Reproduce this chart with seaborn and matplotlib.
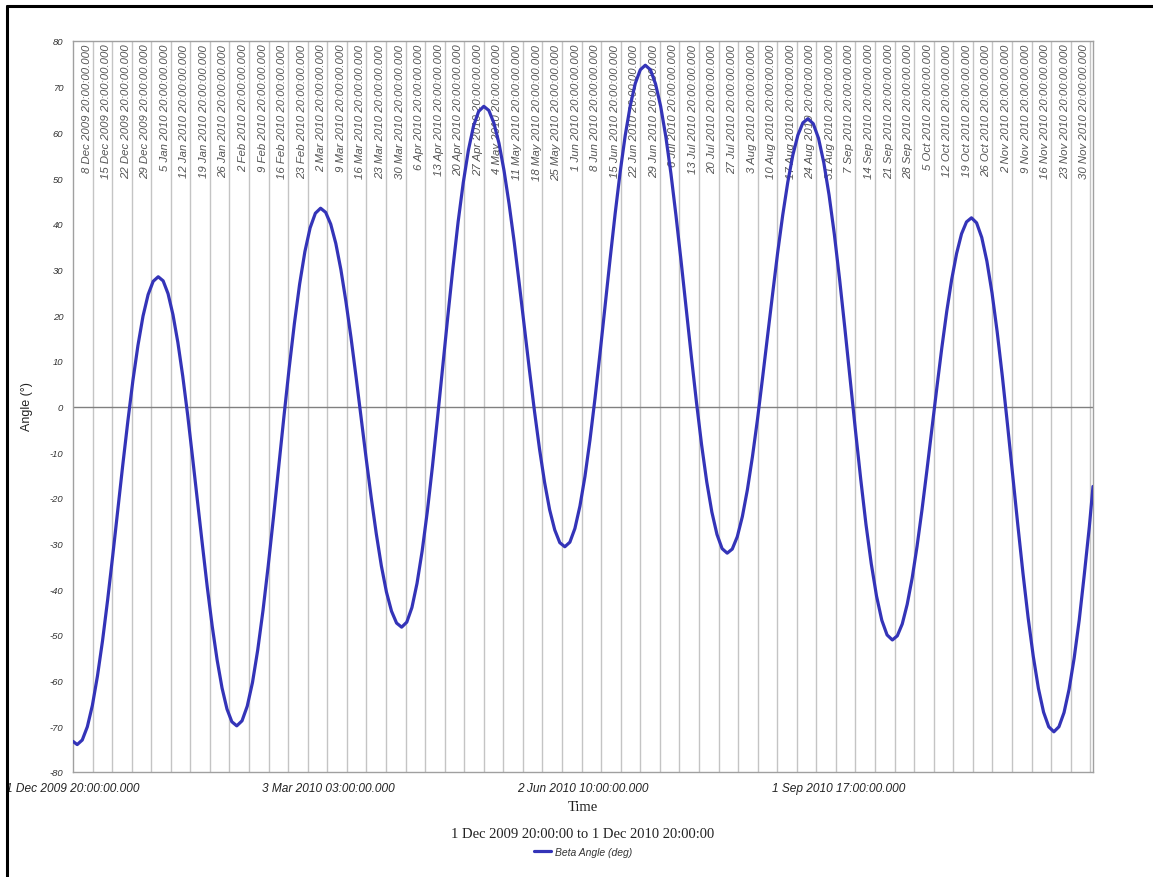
import pandas as pd
import seaborn as sns
import matplotlib.pyplot as plt
import matplotlib.dates as mdates
from matplotlib.lines import Line2D

# beta angle readings, days after 1 Dec 2009 20:00
days = [0.0,
        1.5, 3.31, 5.13, 6.94, 8.75, 10.56, 12.38, 14.19, 16.0, 17.81, 19.63, 21.44, 23.25, 25.06, 26.88, 28.69,
        30.5, 32.26, 34.01, 35.77, 37.53, 39.28, 41.04, 42.79, 44.55, 46.31, 48.06, 49.82, 51.58, 53.33, 55.09, 56.84,
        58.6, 60.48, 62.35, 64.23, 66.1, 67.98, 69.85, 71.73, 73.6, 75.48, 77.35, 79.23, 81.1, 82.98, 84.85, 86.73,
        88.6, 90.41, 92.23, 94.04, 95.85, 97.66, 99.48, 101.29, 103.1, 104.91, 106.73, 108.54, 110.35, 112.16, 113.98, 115.79,
        117.6, 119.44, 121.28, 123.11, 124.95, 126.79, 128.63, 130.46, 132.3, 134.14, 135.98, 137.81, 139.65, 141.49, 143.33, 145.16,
        147.0, 148.81, 150.63, 152.44, 154.25, 156.06, 157.88, 159.69, 161.5, 163.31, 165.13, 166.94, 168.75, 170.56, 172.38, 174.19,
        176.0, 177.8, 179.6, 181.4, 183.2, 185.0, 186.8, 188.6, 190.4, 192.2, 194.0, 195.8, 197.6, 199.4, 201.2, 203.0,
        204.8, 206.63, 208.46, 210.29, 212.13, 213.96, 215.79, 217.62, 219.45, 221.28, 223.11, 224.94, 226.78, 228.61, 230.44, 232.27,
        234.1, 235.91, 237.71, 239.52, 241.33, 243.13, 244.94, 246.74, 248.55, 250.36, 252.16, 253.97, 255.78, 257.58, 259.39, 261.19,
        263.0, 264.89, 266.78, 268.66, 270.55, 272.44, 274.33, 276.21, 278.1, 279.99, 281.88, 283.76, 285.65, 287.54, 289.43, 291.31,
        293.2, 294.97, 296.74, 298.51, 300.28, 302.04, 303.81, 305.58, 307.35, 309.12, 310.89, 312.66, 314.43, 316.19, 317.96, 319.73,
        321.5, 323.34, 325.19, 327.03, 328.88, 330.72, 332.56, 334.41, 336.25, 338.09, 339.94, 341.78, 343.63, 345.47, 347.31, 349.16,
        351.0, 352.81, 354.63, 356.44, 358.25, 360.06, 361.88, 363.69, 365.0]
beta = [-73.3,
        -74.0, -73.0, -70.1, -65.4, -59.0, -51.3, -42.4, -32.8, -22.8, -12.8, -3.2, 5.7, 13.4, 19.8, 24.5, 27.4,
        28.4, 27.5, 24.7, 20.1, 14.0, 6.6, -1.9, -11.2, -20.8, -30.3, -39.6, -48.1, -55.5, -61.6, -66.2, -69.0,
        -69.9, -68.8, -65.6, -60.4, -53.3, -44.7, -34.9, -24.3, -13.3, -2.2, 8.4, 18.2, 26.8, 33.9, 39.1, 42.3,
        43.4, 42.5, 39.9, 35.7, 30.0, 23.0, 15.1, 6.5, -2.5, -11.4, -20.0, -27.9, -34.9, -40.6, -44.8, -47.4,
        -48.3, -47.2, -44.0, -38.7, -31.6, -23.0, -13.1, -2.4, 8.7, 19.8, 30.5, 40.4, 49.0, 56.1, 61.4, 64.6,
        65.7, 64.8, 62.0, 57.6, 51.6, 44.3, 36.0, 26.9, 17.5, 8.1, -1.0, -9.3, -16.6, -22.6, -27.0, -29.8,
        -30.7, -29.7, -26.7, -21.8, -15.3, -7.3, 1.8, 11.7, 22.0, 32.3, 42.2, 51.3, 59.3, 65.8, 70.7, 73.7,
        74.7, 73.7, 70.6, 65.7, 59.1, 51.0, 41.7, 31.7, 21.3, 10.9, 0.9, -8.4, -16.5, -23.1, -28.0, -31.1,
        -32.1, -31.2, -28.5, -24.1, -18.2, -11.0, -2.8, 6.2, 15.5, 24.7, 33.7, 41.9, 49.1, 55.0, 59.4, 62.1,
        63.0, 61.9, 58.7, 53.4, 46.3, 37.7, 27.8, 17.1, 6.0, -5.2, -15.9, -25.8, -34.4, -41.5, -46.8, -50.0,
        -51.1, -50.2, -47.6, -43.3, -37.6, -30.6, -22.6, -13.9, -4.9, 4.1, 12.8, 20.8, 27.8, 33.5, 37.8, 40.4,
        41.3, 40.2, 37.0, 31.8, 24.8, 16.3, 6.6, -4.0, -15.0, -25.9, -36.5, -46.2, -54.7, -61.7, -66.9, -70.1,
        -71.2, -70.1, -67.0, -61.9, -55.1, -46.8, -36.8, -26.3, -17.5]

start = pd.Timestamp("2009-12-01 20:00")
end = pd.Timestamp("2010-12-01 20:00")
major_ticks = ["2009-12-01 20:00", "2010-03-03 03:00", "2010-06-02 10:00", "2010-09-01 17:00"]
major_labels = ["1 Dec 2009 20:00:00.000", "3 Mar 2010 03:00:00.000",
                "2 Jun 2010 10:00:00.000", "1 Sep 2010 17:00:00.000"]
week_marks = pd.date_range("2009-12-08 20:00", "2010-11-30 20:00", freq="7D")
y_ticks = list(range(-80, 81, 10))

df = pd.DataFrame({"time": start + pd.to_timedelta(days, unit="D"), "beta": beta})

sns.set_theme(style="white")
plt.rcParams["font.family"] = ["Liberation Sans", "DejaVu Sans"]

fig = plt.figure(figsize=(11.53, 8.78), dpi=100)
ax = fig.add_axes([73 / 1153, 1 - 773 / 878, 1020 / 1153, 731 / 878])

for wk in week_marks:
    ax.axvline(wk, color="#c4c4c4", lw=1.0, zorder=1)
    ax.text(mdates.date2num(wk) - 0.35, 79.4,
            f"{wk.day} {wk.strftime('%b %Y')} 20:00:00.000",
            rotation=90, ha="right", va="top", fontsize=8.2,
            style="italic", color="#555555", zorder=2)
ax.axhline(0, color="#808080", lw=1.0, zorder=1)

sns.lineplot(data=df, x="time", y="beta", ax=ax, color="#3434b8", lw=2.3,
             label="Beta Angle (deg)", zorder=3)

ax.set_xlim(start, end)
ax.set_ylim(-80, 80)
ax.set_yticks(y_ticks)
ax.set_yticklabels([str(v) for v in y_ticks], fontsize=6.8, style="italic", color="#333333")
ax.set_xticks(pd.to_datetime(major_ticks))
ax.set_xticklabels(major_labels, fontsize=8.6, style="italic", color="#222222")
ax.tick_params(axis="both", direction="out", length=3, width=0.8, color="#999999", pad=4)
ax.set_xlabel("")
ax.set_ylabel("")
for s in ax.spines.values():
    s.set_visible(True)
    s.set_color("#a0a0a0")
    s.set_linewidth(1.0)

fig.text(27 / 1153, 1 - 407 / 878, "Angle (°)", rotation=90, ha="center", va="center",
         fontsize=9, color="#222222")
fig.text(583 / 1153, 1 - 808 / 878, "Time", ha="center", va="center",
         fontsize=10.5, family="Liberation Serif", color="#222222")
fig.text(583 / 1153, 1 - 835 / 878, "1 Dec 2009 20:00:00 to 1 Dec 2010 20:00:00",
         ha="center", va="center", fontsize=10.5, family="Liberation Serif", color="#222222")

leg = ax.legend(loc="center", bbox_to_anchor=(583 / 1153, 1 - 853 / 878),
                bbox_transform=fig.transFigure, frameon=False, handlelength=1.6,
                handletextpad=0.4, prop={"size": 7.5, "style": "italic"})
for t in leg.get_texts():
    t.set_color("#333333")

# black frame on the top and left edge
fig.add_artist(Line2D([7 / 1153, 1], [1 - 7 / 878, 1 - 7 / 878], transform=fig.transFigure,
                      color="black", lw=2.2))
fig.add_artist(Line2D([7 / 1153, 7 / 1153], [0, 1 - 7 / 878], transform=fig.transFigure,
                      color="black", lw=2.2))

fig.savefig("out.png", dpi=100)
